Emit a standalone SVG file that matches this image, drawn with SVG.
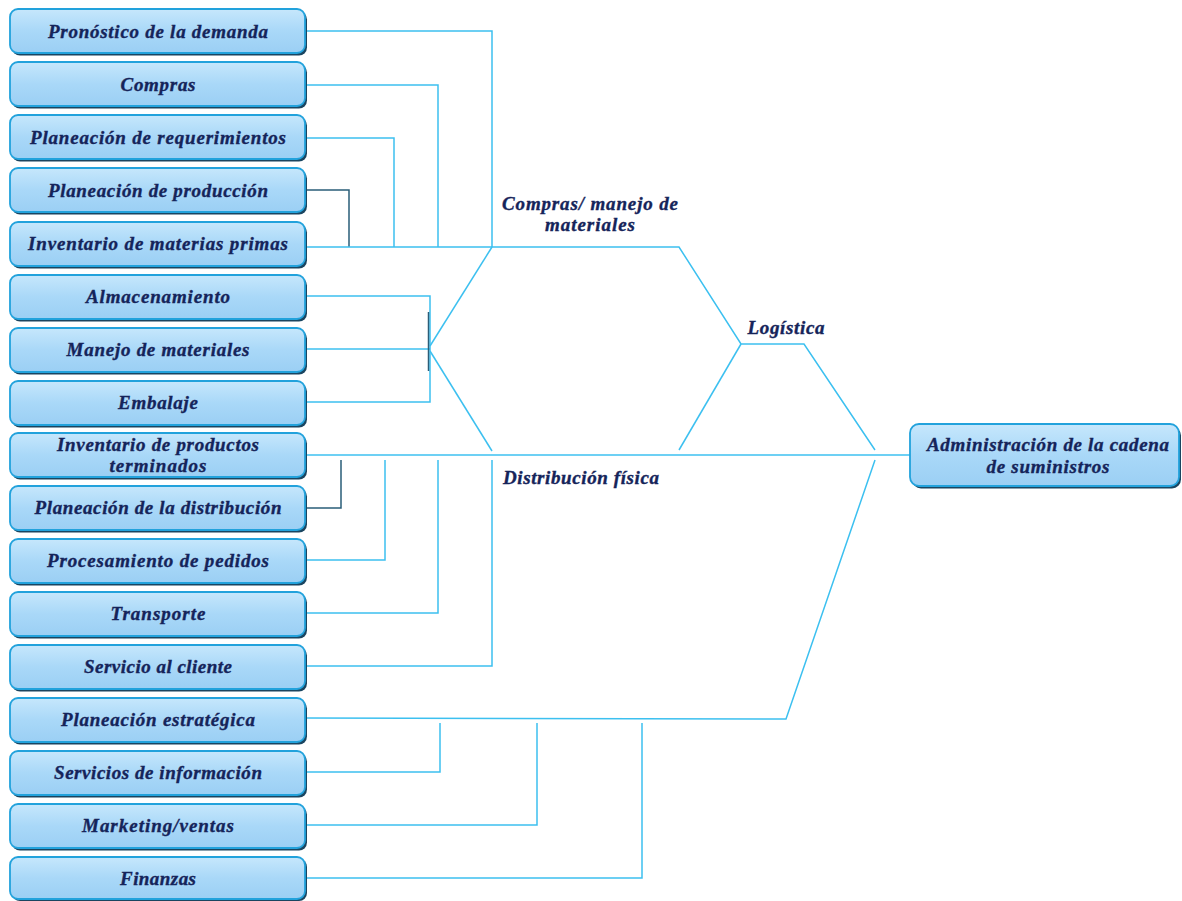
<svg xmlns="http://www.w3.org/2000/svg" width="1182" height="901" viewBox="0 0 1182 901">
<defs>
<linearGradient id="bg" x1="0" y1="0" x2="0" y2="1">
<stop offset="0" stop-color="#c6e7fc"/>
<stop offset="0.5" stop-color="#a9d8f8"/>
<stop offset="1" stop-color="#9bcff4"/>
</linearGradient>
<style>
.sh{fill:#1a4560}
.bx{fill:url(#bg);stroke:#22a2dc;stroke-width:1.8}
.t{font-family:"Liberation Serif",serif;font-weight:bold;font-style:italic;font-size:19px;fill:#15245a;stroke:#15245a;stroke-width:0.35;text-anchor:middle}
.ln{fill:none;stroke:#3cc0f0;stroke-width:1.5}
.dk{fill:none;stroke:#2a5d78;stroke-width:1.5}
</style>
</defs>
<rect width="1182" height="901" fill="#fff"/>
<g id="connectors">
<polyline class="ln" points="305,31 492,31 492,247"/>
<polyline class="ln" points="305,85 438,85 438,247"/>
<polyline class="ln" points="305,138 394,138 394,247"/>
<polyline class="dk" points="305,190 349,190 349,247"/>
<polyline class="ln" points="305,247 679,247 741,344 804,344 875,450"/>
<polyline class="ln" points="492,247 430,346"/>
<polyline class="ln" points="305,296 430,296 430,402 305,402"/>
<line class="ln" x1="305" y1="349" x2="430" y2="349"/>
<line class="dk" x1="428.5" y1="312" x2="428.5" y2="371"/>
<polyline class="ln" points="430,351 492,451"/>
<line class="ln" x1="305" y1="455" x2="910" y2="455"/>
<polyline class="dk" points="341,460 341,508 305,508"/>
<polyline class="ln" points="385,460 385,560 305,560"/>
<polyline class="ln" points="438,460 438,613 305,613"/>
<polyline class="ln" points="492,460 492,666 305,666"/>
<line class="ln" x1="679" y1="450" x2="741" y2="344"/>
<polyline class="ln" points="875,460 786,719 305,718"/>
<polyline class="ln" points="440,723 440,772 305,772"/>
<polyline class="ln" points="537,723 537,825 305,825"/>
<polyline class="ln" points="642,723 642,878 305,878"/>
</g>
<g id="labels">
<text class="t" x="590" y="210" textLength="176">Compras/ manejo de</text>
<text class="t" x="590" y="231" textLength="90">materiales</text>
<text class="t" x="786" y="334" textLength="77">Logística</text>
<text class="t" x="581" y="484" textLength="156">Distribución física</text>
</g>
<g id="n0"><rect class="sh" x="12" y="11.5" width="295" height="44" rx="8"/><rect class="bx" x="10" y="9" width="295" height="44" rx="8"/><text class="t" x="158" y="38" textLength="220">Pronóstico de la demanda</text></g>
<g id="n1"><rect class="sh" x="12" y="64.5" width="295" height="44" rx="8"/><rect class="bx" x="10" y="62" width="295" height="44" rx="8"/><text class="t" x="158" y="91" textLength="75">Compras</text></g>
<g id="n2"><rect class="sh" x="12" y="117.5" width="295" height="44" rx="8"/><rect class="bx" x="10" y="115" width="295" height="44" rx="8"/><text class="t" x="158" y="144" textLength="256">Planeación de requerimientos</text></g>
<g id="n3"><rect class="sh" x="12" y="170.5" width="295" height="44" rx="8"/><rect class="bx" x="10" y="168" width="295" height="44" rx="8"/><text class="t" x="158" y="197" textLength="220">Planeación de producción</text></g>
<g id="n4"><rect class="sh" x="12" y="224.5" width="295" height="44" rx="8"/><rect class="bx" x="10" y="222" width="295" height="44" rx="8"/><text class="t" x="158" y="250" textLength="260">Inventario de materias primas</text></g>
<g id="n5"><rect class="sh" x="12" y="277.5" width="295" height="44" rx="8"/><rect class="bx" x="10" y="275" width="295" height="44" rx="8"/><text class="t" x="158" y="303" textLength="144">Almacenamiento</text></g>
<g id="n6"><rect class="sh" x="12" y="330.5" width="295" height="44" rx="8"/><rect class="bx" x="10" y="328" width="295" height="44" rx="8"/><text class="t" x="158" y="356" textLength="183">Manejo de materiales</text></g>
<g id="n7"><rect class="sh" x="12" y="383.5" width="295" height="44" rx="8"/><rect class="bx" x="10" y="381" width="295" height="44" rx="8"/><text class="t" x="158" y="409" textLength="80">Embalaje</text></g>
<g id="n8"><rect class="sh" x="12" y="435.5" width="295" height="44" rx="8"/><rect class="bx" x="10" y="433" width="295" height="44" rx="8"/><text class="t" x="158" y="451" textLength="202">Inventario de productos</text><text class="t" x="158" y="472" textLength="97">terminados</text></g>
<g id="n9"><rect class="sh" x="12" y="488.5" width="295" height="44" rx="8"/><rect class="bx" x="10" y="486" width="295" height="44" rx="8"/><text class="t" x="158" y="514" textLength="247">Planeación de la distribución</text></g>
<g id="n10"><rect class="sh" x="12" y="541.5" width="295" height="44" rx="8"/><rect class="bx" x="10" y="539" width="295" height="44" rx="8"/><text class="t" x="158" y="567" textLength="222">Procesamiento de pedidos</text></g>
<g id="n11"><rect class="sh" x="12" y="594.5" width="295" height="44" rx="8"/><rect class="bx" x="10" y="592" width="295" height="44" rx="8"/><text class="t" x="158" y="620" textLength="95">Transporte</text></g>
<g id="n12"><rect class="sh" x="12" y="647.5" width="295" height="44" rx="8"/><rect class="bx" x="10" y="645" width="295" height="44" rx="8"/><text class="t" x="158" y="673" textLength="148">Servicio al cliente</text></g>
<g id="n13"><rect class="sh" x="12" y="700.5" width="295" height="44" rx="8"/><rect class="bx" x="10" y="698" width="295" height="44" rx="8"/><text class="t" x="158" y="726" textLength="194">Planeación estratégica</text></g>
<g id="n14"><rect class="sh" x="12" y="753.5" width="295" height="44" rx="8"/><rect class="bx" x="10" y="751" width="295" height="44" rx="8"/><text class="t" x="158" y="779" textLength="208">Servicios de información</text></g>
<g id="n15"><rect class="sh" x="12" y="806.5" width="295" height="44" rx="8"/><rect class="bx" x="10" y="804" width="295" height="44" rx="8"/><text class="t" x="158" y="832" textLength="152">Marketing/ventas</text></g>
<g id="n16"><rect class="sh" x="12" y="859" width="295" height="42" rx="8"/><rect class="bx" x="10" y="857" width="295" height="42" rx="8"/><text class="t" x="158" y="885" textLength="76">Finanzas</text></g>
<g id="n17"><rect class="sh" x="912" y="426.5" width="269" height="62" rx="9"/><rect class="bx" x="910" y="424" width="269" height="62" rx="9"/><text class="t" x="1048" y="451" textLength="242">Administración de la cadena</text><text class="t" x="1048" y="473" textLength="123">de suministros</text></g>
</svg>
